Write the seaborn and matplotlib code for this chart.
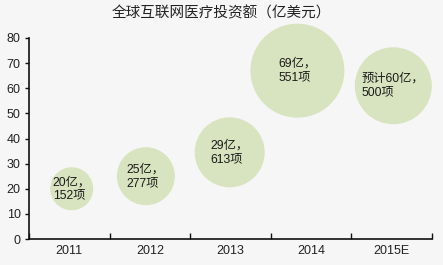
import matplotlib
matplotlib.use("Agg")
import matplotlib.pyplot as plt
import seaborn as sns
import pandas as pd

categories = ["2011", "2012", "2013", "2014", "2015E"]
bubble_x = [0.53, 1.45, 2.49, 3.33, 4.52]
bubble_y = [20, 25, 34.5, 67, 61]
bubble_r = [21.5, 29, 35, 47, 38.5]
labels = ["20亿，\n152项", "25亿，\n277项", "29亿，\n613项", "69亿，\n551项", "预计60亿，\n500项"]
title = "全球互联网医疗投资额（亿美元）"

sns.set_theme(style="white")
plt.rcParams['font.family'] = ['Liberation Sans', 'Noto Sans CJK SC', 'DejaVu Sans']

DPI = 100
fig = plt.figure(figsize=(4.43, 2.65), dpi=DPI, facecolor="#f6f6f6")
ax = fig.add_axes([29/443, 26/265, (432-29)/443, (239-38)/265])
ax.set_facecolor("#f6f6f6")

df = pd.DataFrame({"x": bubble_x, "y": bubble_y, "r": bubble_r, "label": labels})
sizes = {r: (2 * r * 72 / DPI) ** 2 for r in bubble_r}
sns.scatterplot(data=df, x="x", y="y", size="r", sizes=sizes, color="#d8e4bf",
                edgecolor="none", linewidth=0, alpha=1, legend=False, ax=ax, clip_on=False)

for xx, yy, lab in zip(bubble_x, bubble_y, labels):
    ax.text(xx, yy, lab, ha="center", va="center", multialignment="left",
            fontsize=8.8, color="#1a1a1a", linespacing=1.15)

ax.set_xlim(0, 5)
ax.set_ylim(0, 80)
ax.set_xticks([0, 1, 2, 3, 4, 5])
ax.set_xticklabels([])
ax.set_xticks([0.5, 1.5, 2.5, 3.5, 4.5], minor=True)
ax.set_xticklabels(categories, minor=True)
ax.tick_params(axis="x", which="major", direction="in", length=4, width=1, color="#111111", bottom=True)
ax.tick_params(axis="x", which="minor", length=0, labelsize=9, pad=4, labelcolor="#222222")
ax.set_yticks(range(0, 81, 10))
ax.tick_params(axis="y", direction="out", length=3, width=1, color="#111111", left=True,
               labelsize=9, pad=3, labelcolor="#222222")
ax.set_xlabel("")
ax.set_ylabel("")
for s in ["top", "right"]:
    ax.spines[s].set_visible(False)
for s in ["left", "bottom"]:
    ax.spines[s].set_color("#111111")
    ax.spines[s].set_linewidth(1.2)

fig.text(0.5, 1 - 13/265, title, ha="center", va="center", fontsize=10.5, color="#222222")

fig.savefig("out.png", dpi=DPI, facecolor=fig.get_facecolor())
